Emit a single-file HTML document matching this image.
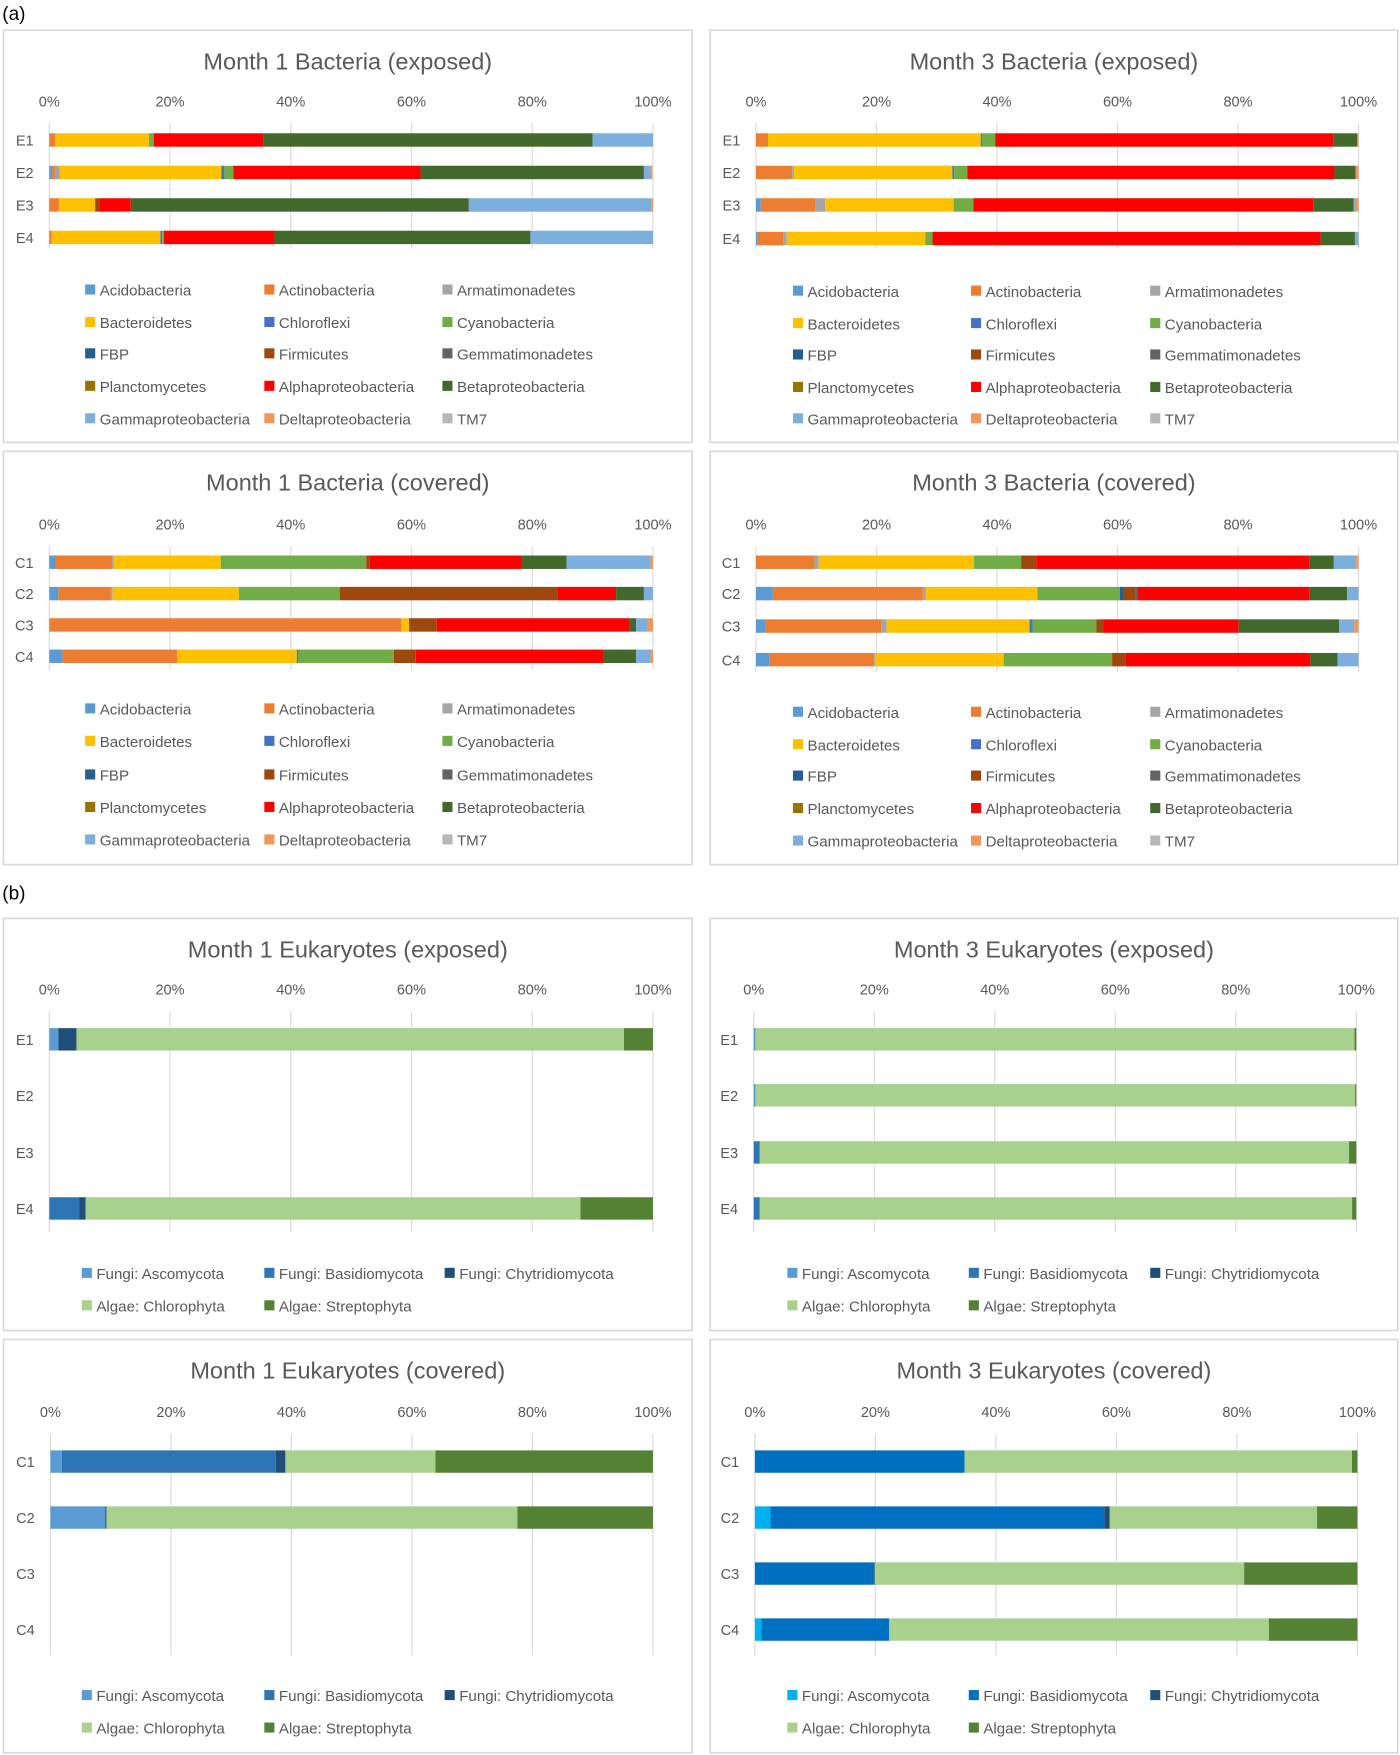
<!DOCTYPE html>
<html><head><meta charset="utf-8"><style>
html,body{margin:0;padding:0;background:#fff;}
svg{display:block;font-family:"Liberation Sans",sans-serif;}
</style></head><body>
<svg id="fig" width="1400" height="1755" viewBox="0 0 1250 1567" xmlns="http://www.w3.org/2000/svg"></svg>
<script>
// ---- Data ----
const bacSeries = ["Acidobacteria","Actinobacteria","Armatimonadetes","Bacteroidetes","Chloroflexi","Cyanobacteria","FBP","Firmicutes","Gemmatimonadetes","Planctomycetes","Alphaproteobacteria","Betaproteobacteria","Gammaproteobacteria","Deltaproteobacteria","TM7"];
const bacColors = ["#5B9BD5","#ED7D31","#A5A5A5","#FFC000","#4472C4","#70AD47","#255E91","#9E480E","#636363","#997300","#FF0000","#43682B","#7CAFDD","#F1975A","#B7B7B7"];
const eukSeries = ["Fungi: Ascomycota","Fungi: Basidiomycota","Fungi: Chytridiomycota","Algae: Chlorophyta","Algae: Streptophyta"];
const eukColorsA = ["#5B9BD5","#2E75B6","#1F4E79","#A9D18E","#548235"];
const eukColorsB = ["#00B0F0","#0070C0","#1F4E79","#A9D18E","#548235"];
const tickLabels = ["0%","20%","40%","60%","80%","100%"];
const catsE = ["E1","E2","E3","E4"];
const catsC = ["C1","C2","C3","C4"];
// order: Acido,Actino,Armat,Bact,Chloro,Cyano,FBP,Firm,Gemm,Planc,Alpha,Beta,Gamma,Delta,TM7
const m1BacExposed = [
 [0,1,0,15.5,0,0.8,0,0,0,0,18.2,54.5,10,0,0],
 [0.5,0.5,0.7,26.8,0.5,1.5,0,0,0,0,31,37,1.1,0.3,0],
 [0,1.6,0,6,0,0,0,0.7,0,0,5.2,56,30.3,0.2,0],
 [0,0.4,0,18,0.3,0.3,0,0,0,0,18.3,42.4,20.3,0,0]];
const m3BacExposed = [
 [0,2,0,35.3,0.2,2.2,0,0,0,0,56.2,3.9,0,0.2,0],
 [0,6,0.3,26.3,0.3,2.2,0,0,0,0,60.9,3.5,0,0.5,0],
 [0.8,9,1.7,21.3,0,3.3,0,0,0,0,56.4,6.7,0.3,0.5,0],
 [0.3,4.3,0.5,23,0,1.2,0,0,0,0,64.4,5.7,0.6,0,0]];
const m1BacCovered = [
 [1.1,9.3,0.3,17.7,0,24.1,0,0.6,0,0,25.2,7.4,13.9,0.4,0],
 [1.5,8.7,0.3,20.9,0,16.7,0,36.1,0,0,9.7,4.6,1.5,0,0],
 [0,58.3,0,1.3,0,0,0,4.6,0,0,31.9,1.1,1.9,0.9,0],
 [2.2,19,0,19.8,0.2,15.9,0,3.6,0,0,31.1,5.4,2.4,0.4,0]];
const m3BacCovered = [
 [0,9.7,0.7,25.8,0,7.8,0,2.5,0,0,45.3,4.1,3.7,0.4,0],
 [2.8,24.9,0.5,18.5,0,13.7,0.6,2.0,0.3,0,28.5,6.3,1.9,0,0],
 [1.5,19.3,0.9,23.7,0.5,10.6,0,1.1,0,0,22.5,16.7,2.5,0.7,0],
 [2.2,17.3,0.3,21.3,0,18,0,2.2,0,0,30.7,4.5,3.5,0,0]];
const m1EukExposed = [[1.5,0,3,90.7,4.8],[0,0,0,0,0],[0,0,0,0,0],[0,5,1,82,12]];
const m3EukExposed = [[0.3,0,0,99.4,0.3],[0.3,0,0,99.5,0.2],[0,1,0,97.8,1.2],[0,1,0,98.3,0.7]];
const m1EukCovered = [[1.9,35.5,1.6,24.9,36.1],[9.1,0,0.2,68.2,22.5],[0,0,0,0,0],[0,0,0,0,0]];
const m3EukCovered = [[0,34.8,0,64.3,0.9],[2.6,55.4,0.9,34.4,6.7],[0,19.7,0.2,61.3,18.8],[1.1,21.2,0,63,14.7]];

// ---- Drawing ----
const svg = document.getElementById('fig');
const NS = "http://www.w3.org/2000/svg";
function mk(tag, attrs, parent){const e=document.createElementNS(NS,tag);for(const k in attrs)e.setAttribute(k,attrs[k]);(parent||svg).appendChild(e);return e;}
function txt(s, attrs, parent){const e=mk('text',attrs,parent);e.textContent=s;return e;}

function panel(cfg){
  const g = mk('g',{});
  
  
  const fr = mk('rect',{x:cfg.px,y:cfg.py,width:cfg.pw,height:cfg.ph,fill:'#fff',stroke:'#d9d9d9','stroke-width':1.5},g);
  
  
  const t = txt(cfg.title,{x:cfg.px+cfg.pw/2,y:cfg.py+35,'text-anchor':'middle','font-size':21,fill:'#595959'},g);
  
  
  const x = v => cfg.x0 + (cfg.x1-cfg.x0)*v/100;
  // gridlines & ticks
  tickLabels.forEach((lab,i)=>{
    const v=i*20;
    const gl = mk('line',{x1:x(v),x2:x(v),y1:cfg.gTop,y2:cfg.gBot,stroke:'#d9d9d9','stroke-width':1},g);
    
    
    const tl = txt(lab,{x:x(v),y:cfg.tickY+5,'text-anchor':'middle','font-size':13,fill:'#595959'},g);
    
    
  });
  cfg.cats.forEach((c,ri)=>{
    const cy = cfg.barY[ri];
    const cl = txt(c,{x:cfg.x0-14,y:cy+5,'text-anchor':'end','font-size':13,fill:'#595959'},g);
    
    
    let acc=0;
    cfg.data[ri].forEach((v,si)=>{
      if(v<=0) return;
      const r = mk('rect',{x:x(acc),y:cy-cfg.bh/2,width:x(acc+v)-x(acc),height:cfg.bh,fill:cfg.colors[si]},g);
      
      
      acc+=v;
    });
  });
  // legend
  cfg.series.forEach((s,i)=>{
    const col=i%3,row=Math.floor(i/3);
    const lx=cfg.legX[col], ly=cfg.legY[row];
    const lg = mk('g',{},g);
    
    
    mk('rect',{x:lx,y:ly-5,width:9,height:9,fill:cfg.colors[i]},lg);
    txt(s,{x:lx+13,y:ly+5,'font-size':13.5,fill:'#595959'},lg);
  });
}

const la = txt('(a)',{x:2,y:18,'font-size':17,fill:'#000'});


const lb = txt('(b)',{x:2,y:803,'font-size':17,fill:'#000'});



const L={px:3,pw:615}, R={px:634,pw:614};
panel({name:'month1-bacteria-exposed-chart',title:'Month 1 Bacteria (exposed)',...L,py:27,ph:368,x0:44,x1:583,tickY:90,gTop:110,gBot:222,barY:[125,154,183,212],bh:12,cats:catsE,data:m1BacExposed,colors:bacColors,series:bacSeries,legX:[76,236,395],legY:[259,288,316,345,374]});
panel({name:'month3-bacteria-exposed-chart',title:'Month  3 Bacteria (exposed)',...R,py:27,ph:368,x0:675,x1:1213,tickY:90,gTop:110,gBot:222,barY:[125,154,183,213],bh:12,cats:catsE,data:m3BacExposed,colors:bacColors,series:bacSeries,legX:[708,867,1027],legY:[260,289,317,346,374]});
panel({name:'month1-bacteria-covered-chart',title:'Month 1 Bacteria (covered)',...L,py:403,ph:369,x0:44,x1:583,tickY:468,gTop:488,gBot:598,barY:[502,530,558,586],bh:12,cats:catsC,data:m1BacCovered,colors:bacColors,series:bacSeries,legX:[76,236,395],legY:[633,662,692,721,750]});
panel({name:'month3-bacteria-covered-chart',title:'Month 3 Bacteria (covered)',...R,py:403,ph:369,x0:675,x1:1213,tickY:468,gTop:488,gBot:600,barY:[502,530,559,589],bh:12,cats:catsC,data:m3BacCovered,colors:bacColors,series:bacSeries,legX:[708,867,1027],legY:[636,665,693,722,751]});
panel({name:'month1-eukaryotes-exposed-chart',title:'Month 1 Eukaryotes (exposed)',...L,py:820,ph:368,x0:44,x1:583,tickY:883,gTop:903,gBot:1100,barY:[928,978,1029,1079],bh:20,cats:catsE,data:m1EukExposed,colors:eukColorsA,series:eukSeries,legX:[73,236,397],legY:[1137,1166]});
panel({name:'month3-eukaryotes-exposed-chart',title:'Month 3 Eukaryotes (exposed)',...R,py:820,ph:368,x0:673,x1:1211,tickY:883,gTop:903,gBot:1100,barY:[928,978,1029,1079],bh:20,cats:catsE,data:m3EukExposed,colors:eukColorsA,series:eukSeries,legX:[703,865,1027],legY:[1137,1166]});
panel({name:'month1-eukaryotes-covered-chart',title:'Month 1 Eukaryotes (covered)',...L,py:1196,ph:369,x0:45,x1:583,tickY:1260,gTop:1280,gBot:1478,barY:[1305,1355,1405,1455],bh:20,cats:catsC,data:m1EukCovered,colors:eukColorsA,series:eukSeries,legX:[73,236,397],legY:[1514,1543]});
panel({name:'month3-eukaryotes-covered-chart',title:'Month 3 Eukaryotes (covered)',...R,py:1196,ph:369,x0:674,x1:1212,tickY:1260,gTop:1280,gBot:1478,barY:[1305,1355,1405,1455],bh:20,cats:catsC,data:m3EukCovered,colors:eukColorsB,series:eukSeries,legX:[703,865,1027],legY:[1514,1543]});
</script>
</body></html>
